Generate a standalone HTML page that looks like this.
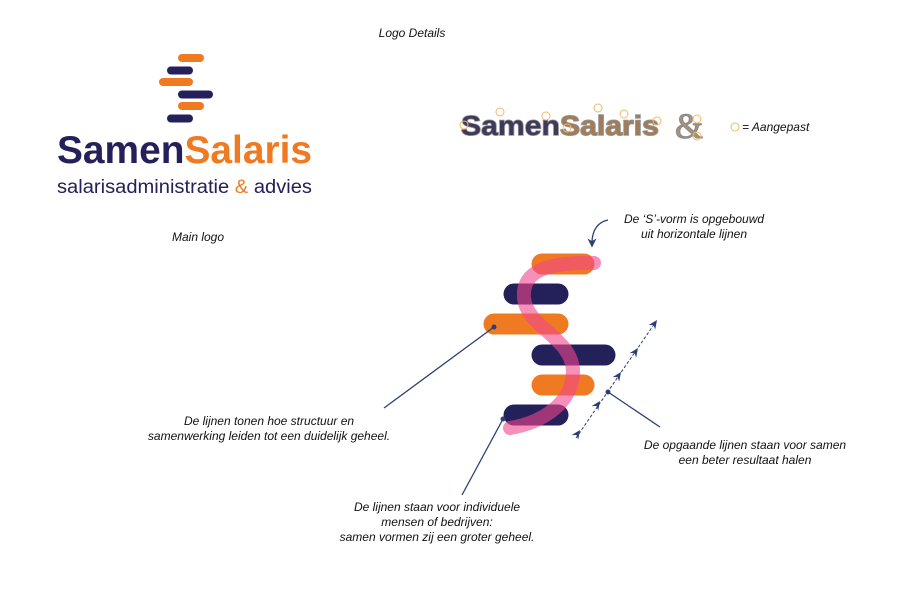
<!DOCTYPE html>
<html><head><meta charset="utf-8"><style>
html,body{margin:0;padding:0;background:#fff;}
svg{display:block;}
.a{font-family:"Liberation Sans",sans-serif;font-style:italic;font-size:12px;fill:#111;}
</style></head><body>
<svg width="900" height="600" viewBox="0 0 900 600" xmlns="http://www.w3.org/2000/svg">
<defs>
<marker id="ar" viewBox="0 0 10 10" refX="5" refY="5" markerWidth="7" markerHeight="7" orient="auto"><path d="M0,0 L10,5 L0,10 L3,5 Z" fill="#2a3f73"/></marker>
</defs>
<text x="412" y="37" class="a" text-anchor="middle">Logo Details</text>
<text x="198" y="241" class="a" text-anchor="middle">Main logo</text>

<g stroke-linecap="round" stroke-width="8">
<line x1="182" y1="58" x2="200" y2="58" stroke="#f07a22"/>
<line x1="171" y1="70.5" x2="189" y2="70.5" stroke="#24205a"/>
<line x1="163" y1="82" x2="189" y2="82" stroke="#f07a22"/>
<line x1="182" y1="94.5" x2="209" y2="94.5" stroke="#24205a"/>
<line x1="182" y1="106" x2="200" y2="106" stroke="#f07a22"/>
<line x1="171" y1="118.5" x2="189" y2="118.5" stroke="#24205a"/>
</g>
<text x="57" y="163" font-family="Liberation Sans,sans-serif" font-weight="bold" font-size="39" textLength="255" lengthAdjust="spacingAndGlyphs"><tspan fill="#24205a">Samen</tspan><tspan fill="#f07a22">Salaris</tspan></text>
<text x="57" y="193" font-family="Liberation Sans,sans-serif" font-size="19" textLength="255" lengthAdjust="spacingAndGlyphs" fill="#24205a">salarisadministratie <tspan fill="#f07a22">&amp;</tspan> advies</text>

<text x="461" y="135" font-family="Liberation Sans,sans-serif" font-weight="bold" font-size="28" textLength="198" lengthAdjust="spacingAndGlyphs" stroke="#999" stroke-width="1.5" paint-order="stroke"><tspan fill="#3d3a5a">Samen</tspan><tspan fill="#a07d5a">Salaris</tspan></text>
<text x="675" y="138" font-family="Liberation Serif,serif" font-size="36" fill="#a89278" stroke="#888" stroke-width="1">&amp;</text>
<g fill="none" stroke="#f5b861" stroke-width="1">
<circle cx="500" cy="112" r="4"/><circle cx="546" cy="116" r="4"/><circle cx="598" cy="108" r="4"/><circle cx="624" cy="114" r="4"/><circle cx="657" cy="121" r="4"/><circle cx="464" cy="125" r="4"/><circle cx="567" cy="128" r="4"/><circle cx="697" cy="119" r="4"/><circle cx="697" cy="136" r="4"/>
<circle cx="735" cy="127" r="4"/>
</g>
<text x="742" y="131" class="a">= Aangepast</text>

<g stroke-linecap="round" stroke-width="21">
<line x1="542" y1="264" x2="584" y2="264" stroke="#f07a22"/>
<line x1="514" y1="294" x2="558" y2="294" stroke="#24205a"/>
<line x1="494" y1="324" x2="558" y2="324" stroke="#f07a22"/>
<line x1="542" y1="355" x2="605" y2="355" stroke="#24205a"/>
<line x1="542" y1="385" x2="584" y2="385" stroke="#f07a22"/>
<line x1="514" y1="415" x2="558" y2="415" stroke="#24205a"/>
</g>
<path d="M594 263 C545 262 522 272 524 298 C527 328 573 338 573 372 C572 405 540 423 510 428" fill="none" stroke="rgba(240,70,140,0.6)" stroke-width="14" stroke-linecap="round"/>

<path d="M608 220 C598 222 592 230 592 243" fill="none" stroke="#2a3f73" stroke-width="1.3" marker-end="url(#ar)"/>
<text x="694" y="223" class="a" text-anchor="middle">De ‘S’-vorm is opgebouwd</text>
<text x="694" y="238" class="a" text-anchor="middle">uit horizontale lijnen</text>

<line x1="576" y1="438" x2="655" y2="323" stroke="#2a3f73" stroke-width="1" stroke-dasharray="3,2"/>
<g fill="#2a3f73">
<path d="M0 0 L-9 -4 L-6 0 L-9 4 Z" transform="translate(580 430) rotate(-55.5)"/>
<path d="M0 0 L-9 -4 L-6 0 L-9 4 Z" transform="translate(600 401) rotate(-55.5)"/>
<path d="M0 0 L-9 -4 L-6 0 L-9 4 Z" transform="translate(621 372) rotate(-55.5)"/>
<path d="M0 0 L-9 -4 L-6 0 L-9 4 Z" transform="translate(638 348) rotate(-55.5)"/>
<path d="M0 0 L-9 -4 L-6 0 L-9 4 Z" transform="translate(657 320) rotate(-55.5)"/>
<circle cx="608" cy="392" r="2.5"/><circle cx="494" cy="327" r="2.5"/><circle cx="503" cy="419" r="2.5"/>
</g>
<g stroke="#2a3f73" stroke-width="1.3">
<line x1="608" y1="392" x2="660" y2="427"/>
<line x1="494" y1="327" x2="384" y2="408"/>
<line x1="503" y1="419" x2="462" y2="495"/>
</g>
<text x="269" y="425" class="a" text-anchor="middle">De lijnen tonen hoe structuur en</text>
<text x="269" y="440" class="a" text-anchor="middle">samenwerking leiden tot een duidelijk geheel.</text>
<text x="745" y="449" class="a" text-anchor="middle">De opgaande lijnen staan voor samen</text>
<text x="745" y="464" class="a" text-anchor="middle">een beter resultaat halen</text>
<text x="437" y="511" class="a" text-anchor="middle">De lijnen staan voor individuele</text>
<text x="437" y="526" class="a" text-anchor="middle">mensen of bedrijven:</text>
<text x="437" y="541" class="a" text-anchor="middle">samen vormen zij een groter geheel.</text>
</svg>
</body></html>
